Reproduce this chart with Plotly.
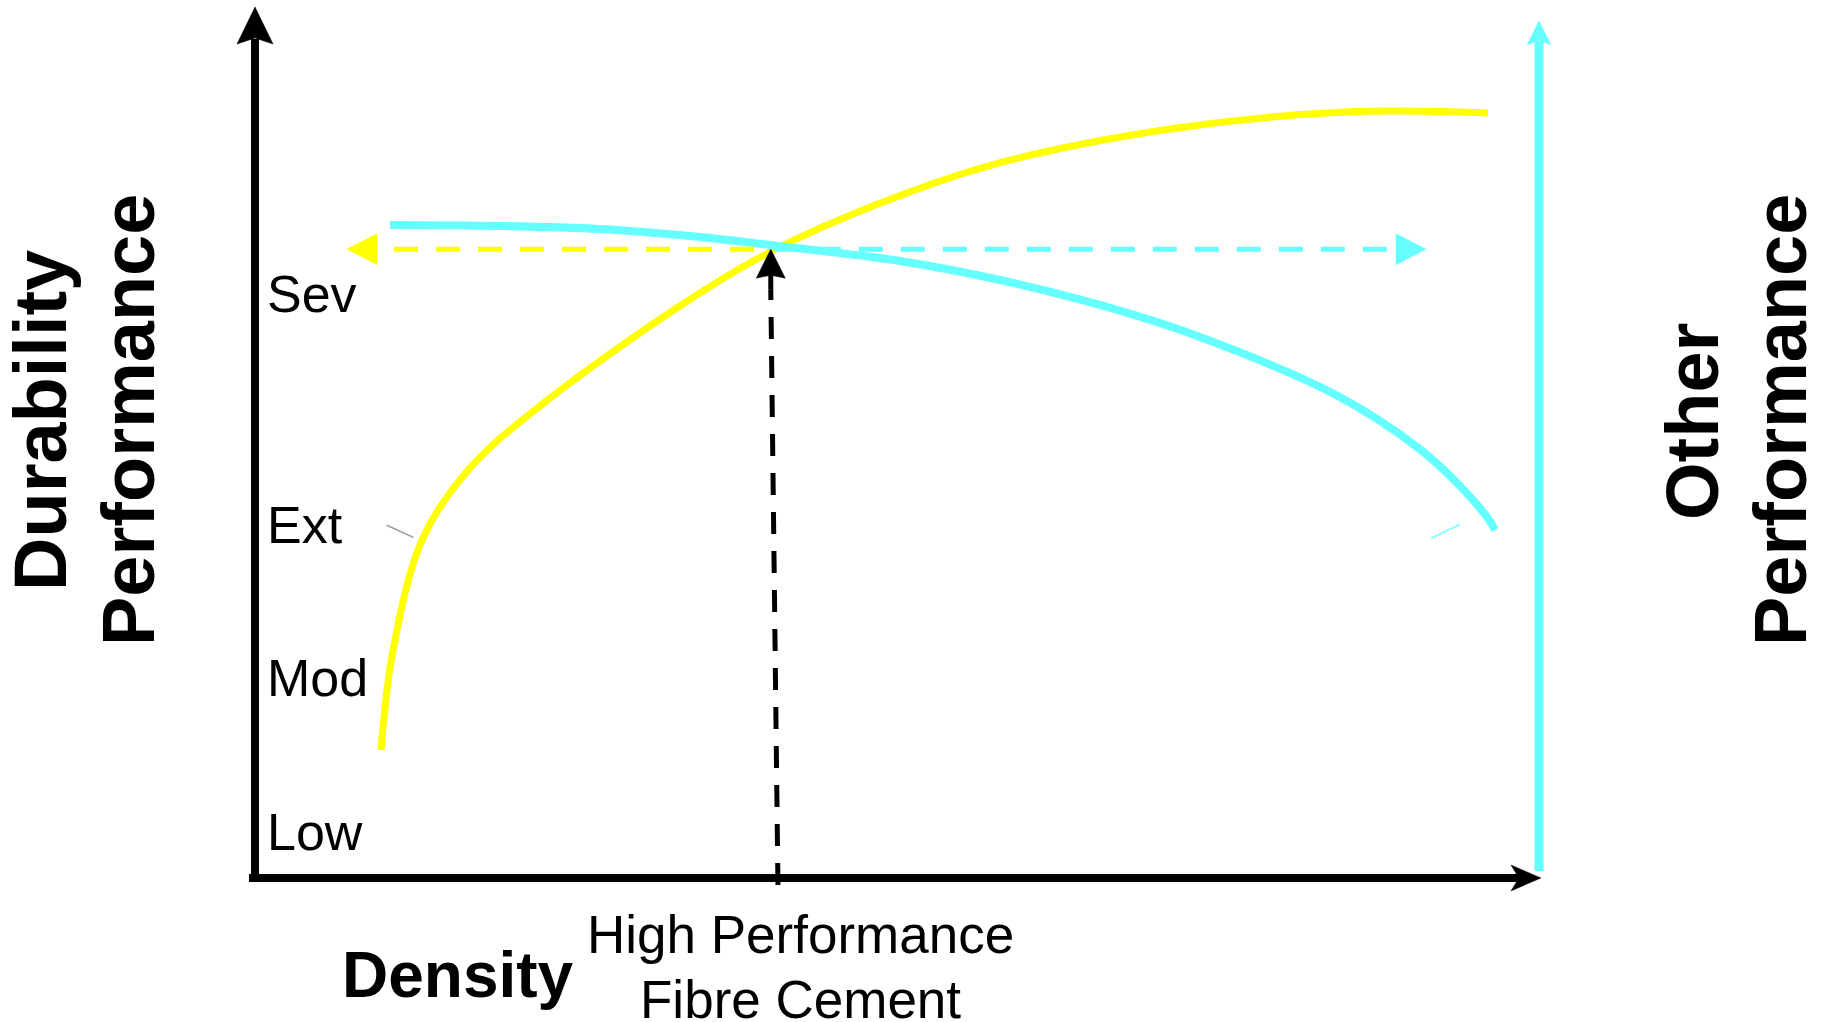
import plotly.graph_objects as go

# ---------------- data (density units 0-100, performance units 0-100) ----------------
yellow_density = [9.82, 10.76, 13.09, 16.76, 22.60, 33.59, 40.14, 48.95, 57.68, 71.32, 84.96, 96.10]
yellow_perf    = [14.70, 26.18, 39.04, 47.07, 54.65, 66.13, 71.87, 77.61, 81.97, 85.99, 87.94, 87.83]

cyan_density = [10.52, 19.10, 26.89, 34.68, 40.14, 50.27, 58.07, 65.86, 73.66, 84.41, 90.88, 93.69, 96.02, 96.65]
cyan_perf    = [74.97, 74.86, 74.51, 73.59, 72.68, 70.84, 68.66, 65.79, 62.11, 55.34, 49.14, 45.35, 41.45, 39.95]

tick_labels = ["Low", "Mod", "Ext", "Sev"]
tick_levels = [5.28, 22.96, 40.5, 67.05]

hpfc_density = 40.2        # High Performance Fibre Cement position
hpfc_level = 72.2          # crossing level
yellow_dash_start = 10.83
yellow_tip = 7.17
cyan_dash_end = 88.93
cyan_tip = 91.27

# ---------------- calibration: data units -> pixels ----------------
W, H = 1825, 1022
X0_PX, X100_PX = 255, 1538
Y0_PX, Y100_PX = 878, 7
sx = (X100_PX - X0_PX) / 100.0
sy = (Y0_PX - Y100_PX) / 100.0
x_range = [-X0_PX / sx, (W - X0_PX) / sx]
y_range = [-(H - Y0_PX) / sy, Y0_PX / sy]

def dx(px):
    return px / sx

def dy(px):
    return px / sy

YELLOW = "#FFFF00"
CYAN = "#66FFFF"
BLACK = "#000000"
FONT = "Liberation Sans, Arial, Helvetica, sans-serif"

fig = go.Figure()

def line(xs, ys, color, width, dash="solid", shape="linear"):
    fig.add_trace(go.Scatter(x=xs, y=ys, mode="lines",
                             line=dict(color=color, width=width, dash=dash, shape=shape),
                             hoverinfo="skip", showlegend=False))

def head(x, y, direction, L, hw, notch, color):
    if direction == "up":
        xs = [x, x - dx(hw), x, x + dx(hw), x]
        ys = [y, y - dy(L), y - dy(L - notch), y - dy(L), y]
    elif direction == "right":
        xs = [x, x - dx(L), x - dx(L - notch), x - dx(L), x]
        ys = [y, y + dy(hw), y, y - dy(hw), y]
    else:  # left
        xs = [x, x + dx(L), x + dx(L - notch), x + dx(L), x]
        ys = [y, y + dy(hw), y, y - dy(hw), y]
    fig.add_trace(go.Scatter(x=xs, y=ys, mode="lines", fill="toself",
                             fillcolor=color, line=dict(color=color, width=0.5),
                             hoverinfo="skip", showlegend=False))

# main axes (durability / density)
y_tip = 100.0
line([0, 0], [-dy(4), y_tip - dy(32)], BLACK, 8)
head(0, y_tip, "up", 37, 18, 6, BLACK)
x_tip = 100.23
line([-dx(6), x_tip - dx(20)], [0, 0], BLACK, 8)
head(x_tip, 0, "right", 30, 13, 8, BLACK)

# other performance axis (cyan)
c_tip = 98.4
line([100.08, 100.08], [0.8, c_tip - dy(20)], CYAN, 9)
head(100.08, c_tip, "up", 24, 12, 5, CYAN)

# curves
line(yellow_density, yellow_perf, YELLOW, 7, shape="spline")
line(cyan_density, cyan_perf, CYAN, 8, shape="spline")

# dashed horizontal arrows
line([yellow_dash_start, hpfc_density], [hpfc_level, hpfc_level], YELLOW, 5, dash="24px,18px")
head(yellow_tip, hpfc_level, "left", 30, 15.5, 0, YELLOW)
line([hpfc_density + dx(4), cyan_dash_end], [hpfc_level, hpfc_level], CYAN, 5, dash="24px,18px")
head(cyan_tip, hpfc_level, "right", 30, 15.5, 0, CYAN)

# dashed vertical arrow
line([40.76, hpfc_density], [-dy(7), hpfc_level - dy(40)], BLACK, 5, dash="22px,17px")
line([hpfc_density, hpfc_density], [hpfc_level - dy(40), hpfc_level - dy(26)], BLACK, 5)
head(hpfc_density, hpfc_level, "up", 29, 14.5, 3, BLACK)

# small stray strokes
line([10.27, 12.35], [40.5, 39.1], "#9a9a9a", 1.5)
line([91.66, 93.92], [39.0, 40.6], CYAN, 1.5)

annotations = []
for lab, lev in zip(tick_labels, tick_levels):
    annotations.append(dict(x=dx(265 - X0_PX), y=lev, xref="x", yref="y", text=lab,
                            showarrow=False, xanchor="left", yanchor="middle",
                            font=dict(family=FONT, size=52, color=BLACK)))

def paper(px, py):
    return px / W, 1 - py / H

def label(text, px, py, size, angle=0):
    x, y = paper(px, py)
    annotations.append(dict(x=x, y=y, xref="paper", yref="paper", text=text,
                            textangle=angle, showarrow=False,
                            xanchor="center", yanchor="middle",
                            font=dict(family=FONT, size=size, color=BLACK)))

label("<b>Durability</b>", 40, 421, 74, -90)
label("<b>Performance</b>", 128, 420, 74, -90)
label("<b>Other</b>", 1692, 422, 74, -90)
label("<b>Performance</b>", 1780, 420, 74, -90)
label("<b>Density</b>", 458, 975, 64)
label("High Performance", 800, 934, 53)
label("Fibre Cement", 800, 999, 53)

fig.update_layout(
    width=W, height=H,
    margin=dict(l=0, r=0, t=0, b=0),
    paper_bgcolor="white", plot_bgcolor="white",
    xaxis=dict(range=x_range, visible=False, fixedrange=True),
    yaxis=dict(range=y_range, visible=False, fixedrange=True),
    showlegend=False,
    annotations=annotations,
)

fig.write_html("out.html",
               post_script="document.body.style.margin='0';document.body.style.padding='0';"
                           "document.documentElement.style.overflow='hidden';",
               config={"displayModeBar": False})
